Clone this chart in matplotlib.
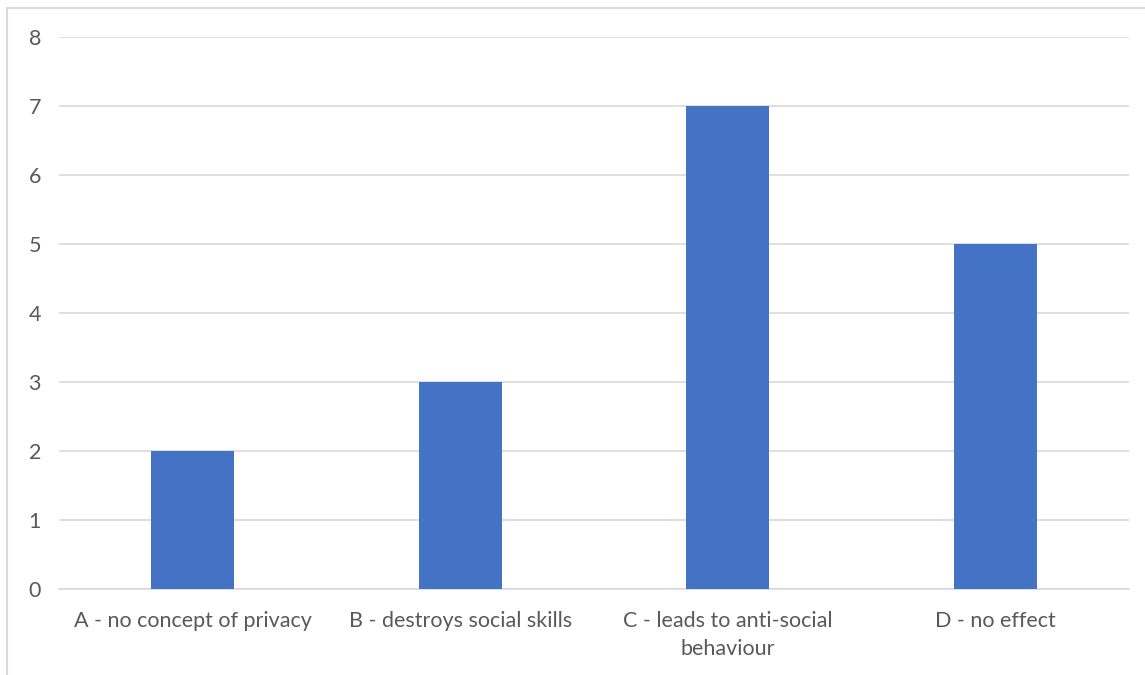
import matplotlib.pyplot as plt
from matplotlib.patches import Rectangle

plt.rcParams['font.family'] = ['Lato', 'DejaVu Sans']

categories = ["A - no concept of privacy", "B - destroys social skills",
              "C - leads to anti-social\nbehaviour", "D - no effect"]
counts = [2, 3, 7, 5]

text_color = "#595959"
grid_color = "#D9D9D9"

fig = plt.figure(figsize=(11.45, 6.75), dpi=100)
ax = fig.add_axes([59 / 1145, 1 - 589 / 675, 1070 / 1145, 552 / 675])

x = range(len(categories))
ax.bar(x, counts, width=0.31, color="#4472C4", zorder=3)

ax.set_xlim(-0.5, len(categories) - 0.5)
ax.set_ylim(0, 8)
ax.set_yticks(range(0, 9))
ax.set_xticks(list(x))
ax.set_xticklabels(categories, linespacing=1.5)

ax.grid(axis="y", color=grid_color, linewidth=1.2, zorder=0)
for side in ["top", "right", "left"]:
    ax.spines[side].set_visible(False)
ax.spines["bottom"].set_color(grid_color)
ax.spines["bottom"].set_linewidth(1.2)
ax.tick_params(axis="both", length=0, colors=text_color, labelsize=15.5)
ax.tick_params(axis="y", pad=13)
ax.tick_params(axis="x", pad=16)

# outer chart frame
fig.patches.append(Rectangle((7 / 1145, -0.1), 1.2, 1 - 8 / 675 + 0.1,
                             transform=fig.transFigure, fill=False,
                             edgecolor=grid_color, linewidth=1.5))

fig.savefig("out.png", dpi=100)
